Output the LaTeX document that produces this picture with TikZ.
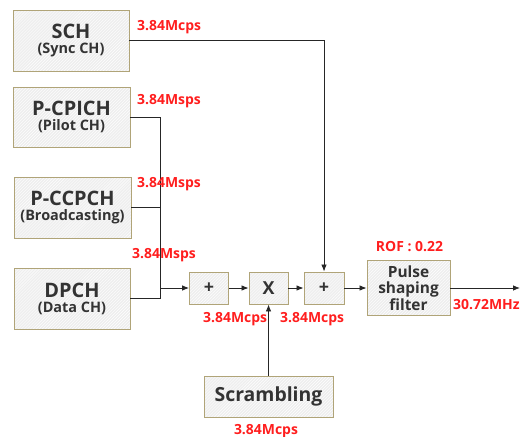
\documentclass[tikz,border=0pt]{standalone}
\usepackage{fontspec}
\setmainfont{Open Sans}
\usetikzlibrary{arrows.meta,patterns}

\definecolor{boxline}{RGB}{176,164,120}
\definecolor{boxfill}{RGB}{238,238,238}
\definecolor{txtgray}{RGB}{51,51,51}
\definecolor{ratered}{RGB}{255,30,30}

\newcommand{\bigtxt}{\fontsize{20}{22}\selectfont}
\newcommand{\subtxt}{\fontsize{14.5}{16}\selectfont}

\tikzset{
  chbox/.style={draw=boxline, line width=0.9pt, preaction={fill=boxfill},
    pattern=north east lines, pattern color=white,
    text=txtgray, font=\bfseries, align=center, inner sep=0pt},
  rate/.style={text=ratered, font=\bfseries\fontsize{14}{16}\selectfont, inner sep=0pt},
  sig/.style={line width=0.8pt, black!85},
  sigarrow/.style={sig, -{Latex[length=7pt,width=5.5pt]}}
}

\begin{document}
\begin{tikzpicture}[x=1bp,y=-1bp]
\useasboundingbox (0,0) rectangle (527,437);

% channel blocks
\node[chbox, minimum width=116bp, minimum height=61bp] (sch) at (71,40.5)
  {\bigtxt SCH\\[3bp]\subtxt (Sync CH)};
\node[chbox, minimum width=117bp, minimum height=60bp] (pcpich) at (71.5,117)
  {\bigtxt P-CPICH\\[3bp]\subtxt (Pilot CH)};
\node[chbox, minimum width=117bp, minimum height=61bp] (pccpch) at (72.5,207.5)
  {\bigtxt P-CCPCH\\[3bp]\subtxt (Broadcasting)};
\node[chbox, minimum width=116bp, minimum height=61bp] (dpch) at (72,298.5)
  {\bigtxt DPCH\\[3bp]\subtxt (Data CH)};

% processing chain
\node[chbox, minimum width=39bp, minimum height=32bp, font=\bfseries\fontsize{18}{18}\selectfont] (add1) at (209,288) {+};
\node[chbox, minimum width=39bp, minimum height=32bp, font=\bfseries\fontsize{18}{18}\selectfont] (mult) at (268.5,288) {X};
\node[chbox, minimum width=40bp, minimum height=32bp, font=\bfseries\fontsize{18}{18}\selectfont] (add2) at (324,288) {+};
\node[chbox, minimum width=83bp, minimum height=55bp, font=\bfseries\fontsize{15.5}{16.5}\selectfont] (pulse) at (408.5,288)
  {Pulse\\shaping\\filter};
\node[chbox, minimum width=129bp, minimum height=41bp, font=\bfseries\fontsize{19.5}{20}\selectfont] (scr) at (268.5,396.5) {Scrambling};

\coordinate (join) at (160,288);
\coordinate (out) at (520,288);

% connectors
\draw[sigarrow] (sch) -| (add2);
\draw[sig] (pcpich) -| (join);
\draw[sig] (pccpch) -| (join);
\draw[sig] (dpch) -| (join);
\draw[sigarrow] (join) -- (add1);
\draw[sigarrow] (add1) -- (mult);
\draw[sigarrow] (mult) -- (add2);
\draw[sigarrow] (add2) -- (pulse);
\draw[sigarrow] (scr) -- (mult);
\draw[sigarrow] (pulse) -- (out);

% rates
\node[rate, anchor=west] (r1) at (137,27) {3.84Mcps};
\node[rate, anchor=west] (r2) at (137,101) {3.84Msps};
\node[rate, anchor=west] (r3) at (137,184) {3.84Msps};
\node[rate, anchor=west] (r4) at (132,255) {3.84Msps};
\node[rate, anchor=west] (r5) at (203,319) {3.84Mcps};
\node[rate, anchor=west] (r6) at (280,319) {3.84Mcps};
\node[rate] (rof) at (409.5,247) {ROF : 0.22};
\node[rate, anchor=west] (r7) at (453,305) {30.72MHz};
\node[rate] (r8) at (266,431) {3.84Mcps};

\end{tikzpicture}
\end{document}
